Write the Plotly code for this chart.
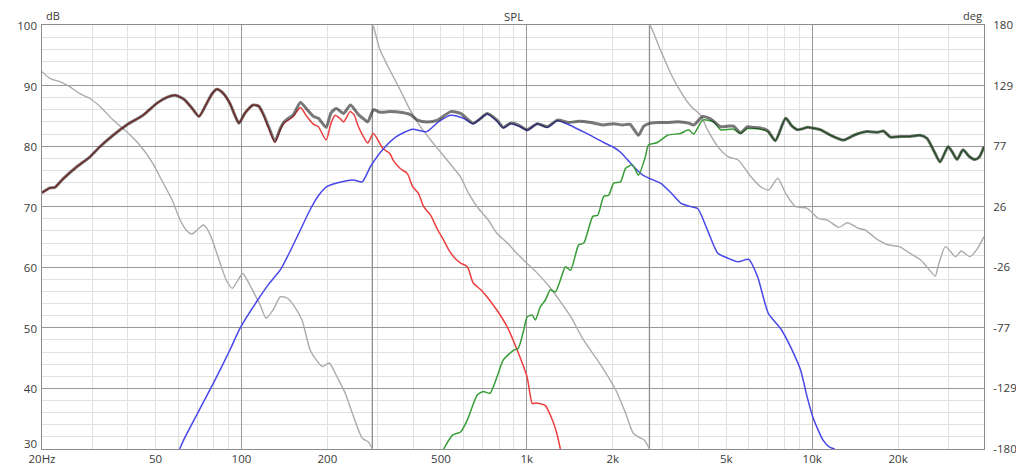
import math
import plotly.graph_objects as go

# ---------------- data ----------------
FREQ_TICKS = [20, 50, 100, 200, 500, 1000, 2000, 5000, 10000, 20000]
FREQ_TICK_LABELS = ["20Hz", "50", "100", "200", "500", "1k", "2k", "5k", "10k", "20k"]
DB_TICKS = [30, 40, 50, 60, 70, 80, 90, 100]
DEG_TICK_LABELS = ["-180", "-129", "-77", "-26", "26", "77", "129", "180"]

WOOFER_HZ = [20, 21.3, 22.2, 23.7, 26.5, 29.4, 31.9, 35.5, 39.6, 45.2,
             50.6, 55, 58.4, 61, 63.4, 67, 71, 75.6, 79, 82,
             86, 91, 95, 98, 103, 110, 115, 119, 125, 131,
             137, 141, 145, 152, 161, 170, 179, 186, 198, 206,
             213, 221, 228, 240, 248, 257, 268, 277, 290, 313,
             331, 340, 360, 381, 398, 417, 435, 460, 487, 511,
             534, 560, 586, 619, 649, 690, 726, 786, 855, 926,
             1002, 1045, 1075, 1110, 1160, 1229, 1270, 1311]
WOOFER_DB = [72.3, 73.1, 73.2, 74.6, 76.6, 78.2, 79.9, 81.8, 83.5, 85.1,
             87.1, 88.1, 88.4, 88.1, 87.6, 86.3, 84.9, 87.1, 88.7, 89.4,
             88.8, 87.1, 85.0, 83.8, 85.5, 86.8, 86.6, 85.3, 82.8, 80.6,
             82.8, 83.8, 84.2, 84.9, 86.4, 84.8, 83.6, 83.2, 81.0, 83.8,
             85.1, 84.6, 84.0, 85.7, 85.2, 83.2, 81.5, 80.5, 82.1, 79.6,
             78.8, 77.7, 76.3, 75.5, 73.3, 72.2, 70.0, 68.6, 66.2, 64.5,
             62.8, 61.5, 60.7, 60.1, 57.4, 56.3, 55.1, 52.9, 50.1, 46.3,
             41.9, 37.5, 37.6, 37.5, 37.2, 34.8, 32.8, 30.0]

MID_HZ = [60.7, 63.5, 70, 80, 91, 99, 114, 125, 137, 149,
          161, 174, 186, 199, 216, 247, 265, 283, 315, 350,
          397, 446, 490, 541, 600, 649, 726, 786, 827, 876,
          949, 1002, 1089, 1180, 1280, 1410, 1620, 1860, 2000, 2130,
          2370, 2550, 2680, 2940, 3200, 3460, 3700, 3970, 4300, 4670,
          5070, 5500, 5990, 6440, 7020, 7750, 8390, 9110, 9600, 10050,
          10900, 11500, 12000]
MID_DB = [30.0, 32.0, 35.8, 41.0, 46.3, 50.0, 54.6, 57.3, 59.6, 62.9,
          66.2, 69.5, 71.8, 73.3, 73.9, 74.4, 74.1, 76.6, 79.6, 81.6,
          82.8, 82.4, 84.0, 85.1, 84.6, 83.7, 85.3, 84.1, 83.0, 83.7,
          83.2, 82.6, 83.7, 83.1, 84.2, 83.5, 82.1, 80.6, 79.9, 79.0,
          76.6, 75.2, 74.7, 73.9, 72.3, 70.6, 70.1, 69.7, 66.1, 62.3,
          61.5, 60.9, 61.3, 58.4, 52.4, 49.9, 46.9, 43.0, 38.6, 35.3,
          31.5, 30.3, 30.0]

TWEETER_HZ = [511, 549, 586, 619, 670, 703, 743, 786, 827, 898,
              933, 975, 1002, 1045, 1071, 1116, 1162, 1209, 1258, 1311,
              1366, 1423, 1520, 1584, 1703, 1772, 1860, 1936, 2016, 2130,
              2217, 2346, 2461, 2604, 2668, 2870, 3113, 3457, 3690, 3843,
              4135, 4517, 4776, 5300, 5607, 5930, 6227, 6585, 7000, 7430,
              8071, 8500, 8895, 9650, 10000, 10710, 11600, 12880, 14000, 15500,
              17000, 17770, 18800, 20400, 22000, 23860, 25250, 26900, 28070, 29950,
              31000, 32180, 33770, 35500, 37190, 38500, 40000]
TWEETER_DB = [30.0, 32.3, 32.8, 34.8, 38.9, 39.5, 39.2, 41.9, 44.7, 46.3,
              46.6, 49.6, 51.8, 52.1, 51.3, 53.5, 54.6, 56.3, 55.9, 57.9,
              60.1, 59.5, 63.7, 64.0, 68.4, 68.6, 71.7, 71.9, 73.9, 74.1,
              76.3, 76.9, 75.2, 78.3, 80.2, 80.6, 81.8, 82.1, 82.7, 82.0,
              84.3, 84.0, 82.7, 82.8, 82.1, 82.9, 82.9, 82.8, 82.4, 80.9,
              84.6, 83.3, 82.7, 83.1, 83.0, 82.7, 81.8, 81.0, 81.8, 82.4,
              82.3, 82.5, 81.5, 81.6, 81.6, 81.8, 81.3, 78.9, 77.4, 79.9,
              79.0, 77.8, 79.4, 78.3, 77.8, 78.2, 79.9]

TOTAL_HZ = [20, 21.3, 22.2, 23.7, 26.5, 29.4, 31.9, 35.5, 39.6, 45.2,
            50.6, 55, 58.4, 61, 63.4, 67, 71, 75.6, 79, 82,
            86, 91, 95, 98, 103, 110, 115, 119, 125, 131,
            137, 141, 145, 152, 161, 170, 179, 186, 198, 206,
            215, 228, 241, 257, 268, 277, 290, 306, 331, 360,
            391, 414, 449, 487, 541, 586, 649, 690, 726, 786,
            827, 876, 912, 949, 1002, 1089, 1180, 1280, 1400, 1520,
            1676, 1845, 2016, 2165, 2300, 2461, 2570, 2711, 2900, 3113,
            3300, 3457, 3690, 3843, 4135, 4400, 4776, 5050, 5301, 5607,
            5930, 6227, 6585, 7000, 7430, 8071, 8500, 8895, 9650, 10000,
            10710, 11600, 12880, 14000, 15500, 17000, 17770, 18800, 20400, 22000,
            23860, 25250, 26900, 28070, 29950, 31000, 32180, 33770, 35500, 37190,
            38500, 40000]
TOTAL_DB = [72.3, 73.1, 73.2, 74.6, 76.6, 78.2, 79.9, 81.8, 83.5, 85.1,
            87.1, 88.1, 88.4, 88.1, 87.6, 86.3, 84.9, 87.1, 88.7, 89.4,
            88.8, 87.1, 85.0, 83.8, 85.5, 86.8, 86.6, 85.4, 83.0, 80.8,
            83.0, 84.0, 84.5, 85.2, 87.2, 86.0, 84.9, 84.6, 83.1, 85.5,
            86.2, 85.4, 86.8, 85.2, 84.5, 84.0, 86.0, 85.6, 85.7, 85.6,
            85.2, 84.3, 84.0, 84.3, 85.7, 85.4, 83.8, 84.6, 85.4, 84.3,
            83.1, 83.8, 83.7, 83.3, 82.7, 83.7, 83.2, 84.3, 83.9, 84.1,
            83.9, 83.5, 83.7, 83.5, 83.6, 81.8, 83.3, 83.8, 83.9, 83.9,
            84.0, 84.0, 83.8, 83.5, 84.9, 84.5, 83.2, 83.3, 83.3, 82.2,
            83.2, 83.1, 83.0, 82.5, 80.9, 84.6, 83.3, 82.7, 83.1, 83.0,
            82.7, 81.8, 81.0, 81.8, 82.4, 82.3, 82.5, 81.5, 81.6, 81.6,
            81.8, 81.3, 78.9, 77.4, 79.9, 79.0, 77.8, 79.4, 78.3, 77.8,
            78.2, 79.9]

PHASE_HZ = [20, 21.3, 23.1, 25, 27, 29.4, 32, 35.5, 39.6, 44,
            48.9, 52.5, 57, 61, 64, 67, 70, 73.4, 76, 79,
            85, 89, 93, 97, 101, 105, 110, 116, 122, 129,
            137, 145, 152, 163, 174, 185, 192, 203, 216, 231,
            247, 265, 278, 286, 287.5, 287.5, 290, 306, 331, 360,
            390, 424, 470, 525, 585, 625, 676, 733, 785, 850,
            922, 1000, 1075, 1200, 1330, 1425, 1580, 1800, 2050, 2220,
            2360, 2470, 2580, 2690, 2690, 2720, 2940, 3190, 3460, 3750,
            4060, 4300, 4670, 5070, 5500, 6100, 6600, 7050, 7570, 8070,
            8750, 9600, 10500, 11300, 12400, 13300, 14500, 15300, 17000, 18500,
            20200, 22000, 24000, 25200, 27000, 27600, 29300, 31800, 33300, 35700,
            38000, 40000]
PHASE_DEG = [140.4, 134.7, 131.9, 127.6, 122, 117.8, 110.6, 99.3, 89.4, 78.1,
             62.6, 48.4, 32, 14.4, 6, 2.6, 6, 10.2, 6.5, -2.5,
             -25.2, -38, -43.5, -37, -31, -37, -46.4, -57, -69, -62,
             -50.7, -52, -57.7, -70.5, -95.9, -106, -110, -107, -118.6, -132.7,
             -152.5, -170.9, -173.8, -178.5, -180, 180, 178.6, 158.8, 141.8, 124.8,
             107.8, 93.7, 79.6, 65.4, 51.2, 37.1, 24.4, 14.4, 3.2, -4.5,
             -13.8, -22.3, -29.4, -42.2, -57, -67.6, -87.4, -107.2, -129.9, -149.7,
             -166.6, -170, -172.4, -180, 180, 178.6, 158.8, 139, 123.4, 111.2,
             103.6, 90.9, 76.7, 68.2, 65.4, 51.2, 42.7, 39.9, 49.9, 37.1,
             25.8, 24.4, 15.9, 14.4, 8.2, 12.1, 7.4, 6, -2.5, -6.8,
             -8.2, -13.8, -19.5, -25.2, -33.1, -25.2, -8.2, -16.7, -11.9, -16.7,
             -9.6, 0.3]

# ---------------- styling ----------------
FONT = "Open Sans"
TXT = "#3a3a3a"
MAJOR_GRID = "#999999"
MINOR_GRID = "#e0e0e0"

fig = go.Figure()

# phase: split at the +/-180 wraps; smooth pieces plus straight wrap connectors
segments, start = [], 0
for i in range(1, len(PHASE_HZ)):
    if abs(PHASE_DEG[i] - PHASE_DEG[i - 1]) > 300:
        segments.append((start, i))
        fig.add_trace(go.Scatter(x=PHASE_HZ[i - 1:i + 1], y=PHASE_DEG[i - 1:i + 1],
                                 xaxis="x", yaxis="y", mode="lines",
                                 line=dict(color="#8e8e8e", width=1.3),
                                 hoverinfo="skip", showlegend=False))
        start = i
segments.append((start, len(PHASE_HZ)))
for a, b in segments:
    fig.add_trace(go.Scatter(x=PHASE_HZ[a:b], y=PHASE_DEG[a:b], xaxis="x", yaxis="y",
                             mode="lines",
                             line=dict(color="#ababab", width=1.4, shape="spline", smoothing=0.6),
                             hoverinfo="skip", showlegend=False))

for hz, db, col in [(WOOFER_HZ, WOOFER_DB, "rgb(236,62,62)"),
                    (MID_HZ, MID_DB, "rgb(72,72,232)"),
                    (TWEETER_HZ, TWEETER_DB, "rgb(56,156,56)")]:
    fig.add_trace(go.Scatter(x=hz, y=db, xaxis="x2", yaxis="y2", mode="lines",
                             line=dict(color=col, width=1.5, shape="spline", smoothing=0.6),
                             hoverinfo="skip", showlegend=False))

fig.add_trace(go.Scatter(x=TOTAL_HZ, y=TOTAL_DB, xaxis="x2", yaxis="y2", mode="lines",
                         line=dict(color="rgba(30,30,30,0.6)", width=3, shape="spline", smoothing=0.6),
                         hoverinfo="skip", showlegend=False))

xrange = [math.log10(20), math.log10(40000)]
minor_x = [m * d for d in (10, 100, 1000, 10000) for m in range(2, 10)
           if 20 < m * d < 40000]

deg_vals = [-180 + i * 360 / 7 for i in range(8)]

# the page adds an 8px body margin; the figure sits at (8, 8)
fig.update_layout(
    width=1010, height=460,
    margin=dict(l=34, r=34, t=17, b=19, autoexpand=False),
    paper_bgcolor="white",
    plot_bgcolor="white",
    font=dict(family=FONT, size=11.5, color=TXT),
    showlegend=False,
    xaxis=dict(type="log", range=xrange, tickmode="array", tickvals=FREQ_TICKS,
               ticktext=FREQ_TICK_LABELS, showgrid=False, zeroline=False, ticks="",
               showline=True, mirror=True, linecolor="#8c8c8c", linewidth=1,
               automargin=False, ticklabelstandoff=-1,
               minor=dict(tickmode="array", tickvals=minor_x, showgrid=True,
                          gridcolor=MINOR_GRID, gridwidth=1, ticks=""),
               tickfont=dict(family=FONT, size=11.5, color=TXT), fixedrange=True),
    xaxis2=dict(type="log", range=xrange, overlaying="x", anchor="y2",
                tickmode="array", tickvals=[100, 1000, 10000], showticklabels=False,
                showgrid=True, gridcolor=MAJOR_GRID, gridwidth=1, zeroline=False,
                ticks="", showline=False, automargin=False, fixedrange=True),
    yaxis=dict(side="right", range=[-180, 180], tickmode="array", tickvals=deg_vals,
               ticktext=DEG_TICK_LABELS, showgrid=False, zeroline=False, ticks="",
               showline=True, mirror=True, linecolor="#8c8c8c", linewidth=1,
               automargin=False, ticklabelstandoff=6,
               tickfont=dict(family=FONT, size=11.5, color=TXT), fixedrange=True),
    yaxis2=dict(side="left", overlaying="y", anchor="x2", range=[30, 100],
                tickmode="array", tickvals=DB_TICKS[1:], showgrid=True,
                gridcolor=MAJOR_GRID, gridwidth=1, zeroline=False, ticks="",
                automargin=False, ticklabelstandoff=4, ticklabelshift=1,
                minor=dict(tickmode="array", tickvals=[v for v in range(32, 100, 2) if v % 10],
                           showgrid=True, gridcolor=MINOR_GRID, gridwidth=1, ticks=""),
                tickfont=dict(family=FONT, size=11.5, color=TXT), fixedrange=True),
    annotations=[
        # lowest dB label placed by hand so it clears the "20Hz" label below it
        dict(text=str(DB_TICKS[0]), xref="paper", yref="y2", x=(38 - 42) / 942, y=DB_TICKS[0],
             xanchor="right", yanchor="middle", yshift=6, showarrow=False, borderpad=0,
             font=dict(family=FONT, size=11.5, color=TXT)),
        dict(text="SPL", xref="paper", yref="paper", x=0.5, y=(449 - 16) / 424,
             xanchor="center", yanchor="middle", showarrow=False, borderpad=0,
             font=dict(family=FONT, size=11.5, color=TXT)),
        dict(text="dB", xref="paper", yref="paper", x=(44 - 42) / 942, y=1.0,
             xanchor="left", yanchor="bottom", showarrow=False,
             font=dict(family=FONT, size=11, color=TXT)),
        dict(text="deg", xref="paper", yref="paper", x=1.0, y=1.0,
             xanchor="right", yanchor="bottom", showarrow=False,
             font=dict(family=FONT, size=11, color=TXT)),
    ],
)

fig.write_html("out.html")
